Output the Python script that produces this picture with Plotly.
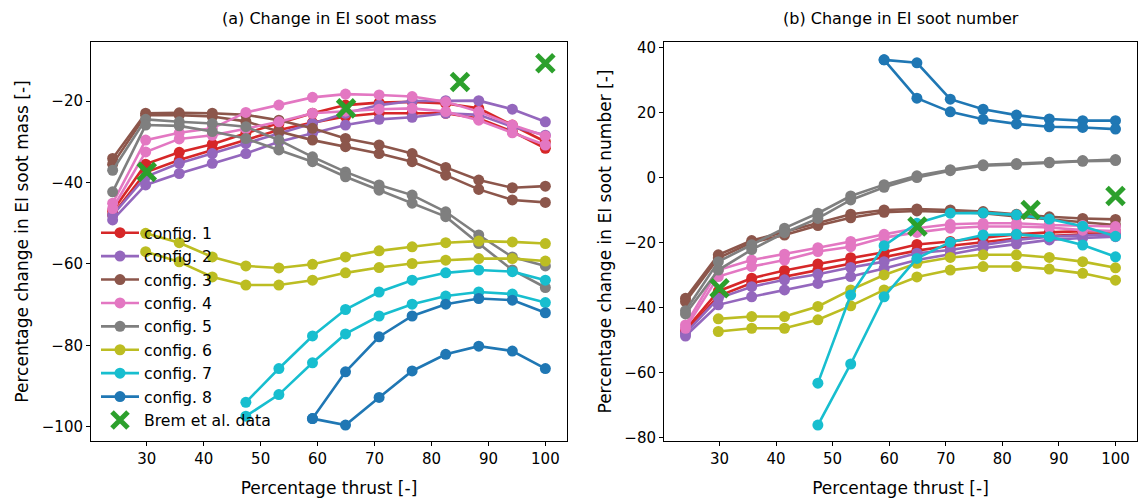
import plotly.graph_objects as go

# Engine thrust settings (percent of maximum)
thrust = [24.0, 29.8, 35.7, 41.5, 47.4, 53.2, 59.1, 64.9, 70.8, 76.6, 82.5, 88.3, 94.2, 100.0]

config_names = ["config. 1", "config. 2", "config. 3", "config. 4",
                "config. 5", "config. 6", "config. 7", "config. 8"]
config_colors = ["#d62728", "#9467bd", "#8c564b", "#e377c2",
                 "#7f7f7f", "#bcbd22", "#17becf", "#1f77b4"]

# (a) change in EI soot mass [%], two fuel cases per configuration
mass_c1a = [-47.0, -35.5, -32.6, -30.6, -27.9, -25.5, -23.0, -21.0, -20.4, -20.2, -20.6, -21.8, -25.9, -30.0]
mass_c1b = [-48.0, -37.5, -34.5, -32.0, -29.5, -27.1, -25.3, -23.8, -23.0, -23.0, -23.0, -24.3, -27.5, -31.6]
mass_c2a = [-48.0, -38.6, -35.3, -32.9, -30.4, -27.9, -25.5, -23.0, -21.0, -20.0, -19.9, -19.9, -22.0, -25.1]
mass_c2b = [-49.2, -40.6, -37.8, -35.3, -32.9, -30.0, -27.9, -25.9, -24.5, -24.0, -23.0, -23.4, -26.3, -28.4]
mass_c3a = [-34.1, -23.0, -22.9, -23.0, -23.4, -24.7, -26.7, -29.2, -30.8, -32.9, -36.3, -39.4, -41.3, -40.9]
mass_c3b = [-35.5, -23.5, -23.5, -23.8, -25.0, -27.5, -29.6, -31.2, -32.9, -34.9, -38.2, -41.7, -44.3, -44.9]
mass_c4a = [-45.1, -29.6, -27.8, -26.7, -22.8, -21.0, -19.1, -18.3, -18.5, -18.9, -20.2, -22.6, -25.9, -28.6]
mass_c4b = [-46.4, -32.5, -29.3, -28.4, -26.8, -25.1, -23.0, -22.5, -22.0, -21.8, -22.6, -24.7, -27.8, -30.8]
mass_c5a = [-37.0, -24.5, -25.1, -25.5, -26.3, -29.6, -33.7, -37.4, -40.6, -43.1, -47.2, -52.9, -58.3, -60.5]
mass_c5b = [-42.3, -25.9, -26.1, -27.5, -29.2, -32.0, -34.9, -38.6, -41.9, -45.1, -48.4, -55.0, -61.5, -65.8]
mass_c6a = [None, -52.5, -54.8, -58.3, -60.5, -61.0, -60.1, -58.3, -56.8, -55.8, -54.8, -54.4, -54.6, -55.0]
mass_c6b = [None, -57.0, -59.5, -63.2, -65.2, -65.2, -64.0, -62.2, -60.9, -59.9, -59.1, -58.7, -58.7, -59.3]
mass_c7a = [None, None, None, None, -94.0, -85.7, -77.7, -71.2, -66.9, -64.0, -62.2, -61.5, -61.9, -64.0]
mass_c7b = [None, None, None, None, -97.4, -92.1, -84.3, -77.2, -72.8, -69.9, -67.9, -66.9, -67.4, -69.5]
mass_c8a = [None, None, None, None, None, None, -98.0, -86.5, -77.9, -72.8, -69.9, -68.5, -68.9, -72.0]
mass_c8b = [None, None, None, None, None, None, -98.0, -99.6, -92.8, -86.3, -82.2, -80.2, -81.4, -85.7]

# (b) change in EI soot number [%]
num_c1a = [-46.9, -35.0, -31.0, -28.6, -26.6, -24.7, -23.0, -20.6, -19.7, -18.5, -17.5, -16.9, -16.5, -16.6]
num_c1b = [-47.5, -36.5, -32.5, -30.5, -28.5, -26.5, -24.5, -22.5, -21.0, -19.8, -18.8, -18.0, -17.5, -17.5]
num_c2a = [-48.0, -37.2, -33.6, -31.5, -29.8, -27.7, -25.9, -23.3, -22.3, -20.8, -19.2, -18.2, -17.8, -17.5]
num_c2b = [-48.8, -39.2, -36.7, -34.6, -32.6, -30.5, -28.0, -25.4, -23.6, -21.8, -20.5, -19.2, -18.6, -18.2]
num_c3a = [-37.2, -23.8, -19.4, -16.7, -14.1, -11.3, -10.0, -9.7, -10.0, -10.5, -11.3, -12.1, -12.6, -12.9]
num_c3b = [-38.2, -24.8, -20.0, -17.7, -14.8, -12.4, -10.7, -10.3, -10.6, -11.0, -12.0, -12.9, -13.8, -14.6]
num_c4a = [-45.4, -28.5, -25.4, -23.6, -21.6, -19.7, -17.5, -15.6, -14.4, -14.1, -14.1, -14.6, -14.8, -15.1]
num_c4b = [-46.4, -30.5, -27.4, -25.4, -22.8, -21.3, -18.5, -16.9, -15.6, -15.1, -15.1, -15.4, -16.2, -16.5]
num_c5a = [-41.0, -25.9, -20.7, -15.6, -11.0, -5.7, -2.2, 0.5, 2.4, 3.9, 4.3, 4.7, 5.2, 5.5]
num_c5b = [-42.0, -28.5, -22.2, -17.0, -12.6, -6.9, -3.0, 0.0, 2.1, 3.6, 4.0, 4.5, 5.0, 5.2]
num_c6a = [None, -43.5, -42.8, -42.8, -39.7, -34.6, -30.0, -26.4, -24.6, -23.8, -23.8, -24.6, -25.9, -27.8]
num_c6b = [None, -47.4, -46.4, -46.4, -43.8, -39.5, -34.6, -30.6, -28.5, -27.4, -27.4, -28.2, -29.5, -31.6]
num_c7a = [None, None, None, None, -63.3, -36.2, -21.0, -14.1, -11.0, -10.9, -11.5, -12.8, -15.0, -18.1]
num_c7b = [None, None, None, None, -76.2, -57.4, -36.7, -24.9, -19.9, -17.7, -17.5, -18.2, -20.8, -24.4]
num_c8a = [None, None, None, None, None, None, 36.2, 35.3, 24.1, 21.0, 19.2, 18.0, 17.5, 17.5]
num_c8b = [None, None, None, None, None, None, 36.2, 24.4, 20.2, 17.9, 16.5, 15.6, 15.4, 14.9]

# Brem et al. measurements
brem_thrust = [30, 65, 85, 100]
brem_mass = [-37.4, -21.8, -15.3, -10.7]
brem_number = [-34.1, -15.1, -10.0, -5.7]

mass_series = [(mass_c1a, mass_c1b), (mass_c2a, mass_c2b), (mass_c3a, mass_c3b), (mass_c4a, mass_c4b),
               (mass_c5a, mass_c5b), (mass_c6a, mass_c6b), (mass_c7a, mass_c7b), (mass_c8a, mass_c8b)]
num_series = [(num_c1a, num_c1b), (num_c2a, num_c2b), (num_c3a, num_c3b), (num_c4a, num_c4b),
              (num_c5a, num_c5b), (num_c6a, num_c6b), (num_c7a, num_c7b), (num_c8a, num_c8b)]

FONT = "DejaVu Sans"
W, H = 1138, 499

fig = go.Figure()

for panel, (series, xa, ya) in enumerate([(mass_series, "x", "y"), (num_series, "x2", "y2")]):
    for i, (sa, sb) in enumerate(series):
        for j, vals in enumerate((sa, sb)):
            fig.add_trace(go.Scatter(
                x=thrust, y=vals, xaxis=xa, yaxis=ya,
                mode="lines+markers",
                line=dict(color=config_colors[i], width=2.6),
                marker=dict(color=config_colors[i], size=11),
                name=config_names[i], legendgroup=config_names[i],
                showlegend=(panel == 0 and j == 0),
            ))
    fig.add_trace(go.Scatter(
        x=brem_thrust, y=brem_mass if panel == 0 else brem_number,
        xaxis=xa, yaxis=ya, mode="markers",
        marker=dict(symbol="x-thin", size=17, color="#2ca02c",
                    line=dict(color="#2ca02c", width=5)),
        name="Brem et al. data", legendgroup="brem", showlegend=(panel == 0),
    ))

def px_x(p):
    return p / W

def px_y(p):
    return 1 - p / H

axis_common = dict(
    showline=True, mirror=True, linecolor="#000000", linewidth=1,
    ticks="outside", ticklen=4, tickwidth=1, tickcolor="#000000",
    showgrid=False, zeroline=False, automargin=False,
    tickfont=dict(family=FONT, size=15, color="#000000"),
)

top, bottom = 42, 441
fig.update_layout(
    width=W, height=H,
    margin=dict(l=0, r=0, t=0, b=0, autoexpand=False),
    paper_bgcolor="white", plot_bgcolor="white",
    font=dict(family=FONT, color="#000000"),
    xaxis=dict(domain=[px_x(91), px_x(567)], range=[20.2, 103.8], anchor="y",
               tickvals=[30, 40, 50, 60, 70, 80, 90, 100],
               title=dict(text="Percentage thrust [-]", font=dict(size=17), standoff=15),
               **axis_common),
    yaxis=dict(domain=[px_y(bottom), px_y(top)], range=[-103.5, -5.5], anchor="x",
               tickvals=[-100, -80, -60, -40, -20],
               title=dict(text="Percentage change in EI soot mass [-]", font=dict(size=17), standoff=8),
               **axis_common),
    xaxis2=dict(domain=[px_x(664), px_x(1137)], range=[20.2, 103.8], anchor="y2",
                tickvals=[30, 40, 50, 60, 70, 80, 90, 100],
                title=dict(text="Percentage thrust [-]", font=dict(size=17), standoff=15),
                **axis_common),
    yaxis2=dict(domain=[px_y(bottom), px_y(top)], range=[-81.1, 41.7], anchor="x2",
                tickvals=[-80, -60, -40, -20, 0, 20, 40],
                title=dict(text="Percentage change in EI soot number [-]", font=dict(size=17), standoff=8),
                **axis_common),
    legend=dict(x=px_x(96), y=px_y(216), xanchor="left", yanchor="top",
                bgcolor="rgba(0,0,0,0)", font=dict(family=FONT, size=15.7, color="#000000"),
                itemsizing="trace", tracegroupgap=0, itemwidth=38),
    annotations=[
        dict(text="(a) Change in EI soot mass", x=(px_x(91) + px_x(567)) / 2, y=px_y(18),
             xref="paper", yref="paper", xanchor="center", yanchor="middle", showarrow=False,
             font=dict(family=FONT, size=16, color="#000000")),
        dict(text="(b) Change in EI soot number", x=(px_x(664) + px_x(1137)) / 2, y=px_y(18),
             xref="paper", yref="paper", xanchor="center", yanchor="middle", showarrow=False,
             font=dict(family=FONT, size=16, color="#000000")),
    ],
)

fig.write_html("out.html")
